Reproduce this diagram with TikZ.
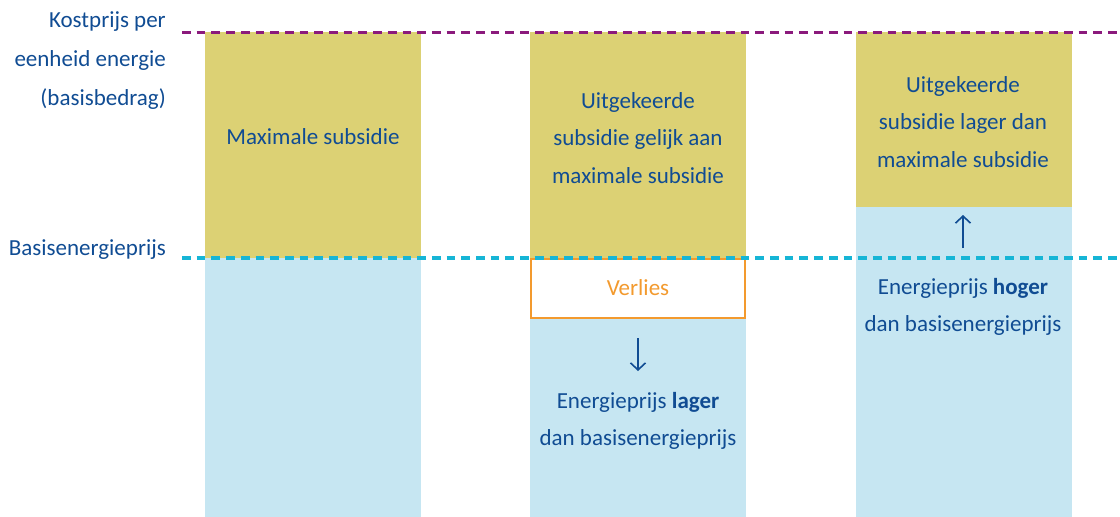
\documentclass[tikz,border=0pt]{standalone}
\usepackage{fontspec}
\setmainfont{Carlito}
\usetikzlibrary{arrows.meta}

\definecolor{donkerblauw}{HTML}{104C93}
\definecolor{geel}{HTML}{DCD174}
\definecolor{lichtblauw}{HTML}{C6E6F2}
\definecolor{cyaan}{HTML}{16B5D6}
\definecolor{paars}{HTML}{8B1A7C}
\definecolor{oranje}{HTML}{F39A2E}

\tikzset{
  tekst/.style={text=donkerblauw, align=center, font=\fontsize{23}{37.5}\selectfont, inner sep=0pt},
  labeltekst/.style={tekst, align=right, font=\fontsize{23}{39}\selectfont},
  niveaulijn/.style={line width=3.5pt, dash pattern=on 8.7pt off 6pt},
  pijl/.style={donkerblauw, line width=1.6pt, -{Straight Barb[length=7pt,width=15pt]}}
}

\begin{document}
\begin{tikzpicture}[x=1pt,y=-1pt]
\useasboundingbox (0,0) rectangle (1120,517);

            % balken
            \fill[geel] (205,32) rectangle (421,258);
            \fill[lichtblauw] (205,258) rectangle (421,517);

            \fill[geel] (530,32) rectangle (746,258);
            \fill[lichtblauw] (530,318) rectangle (746,517);
            \draw[oranje, line width=2pt, fill=white] (531,259) rectangle (745,318);

            \fill[geel] (856,32) rectangle (1072,207);
            \fill[lichtblauw] (856,207) rectangle (1072,517);

            % niveaus
            \draw[niveaulijn, paars] (182,32.5) -- (1120,32.5);
            \draw[niveaulijn, cyaan] (182,258) -- (1120,258);

            \node[labeltekst, anchor=east] (kostprijs) at (166,61) {Kostprijs per\\eenheid energie\\(basisbedrag)};
            \node[labeltekst, anchor=east] (basisprijs) at (166,250) {Basisenergieprijs};

            % teksten in de balken
            \node[tekst] (maxsub) at (313,137) {Maximale subsidie};

            \node[tekst] (gelijk) at (638,138) {Uitgekeerde\\subsidie gelijk aan\\maximale subsidie};
            \node[tekst, text=oranje] (verlies) at (638,288) {Verlies};
            \node[tekst] (lager) at (638,421) {Energieprijs \textbf{lager}\\dan basisenergieprijs};

            \node[tekst] (lagersub) at (963,122) {Uitgekeerde\\subsidie lager dan\\maximale subsidie};
            \node[tekst] (hoger) at (963,307) {Energieprijs \textbf{hoger}\\dan basisenergieprijs};

             %pijlen
             \coordinate (neer1) at (638,338);
             \coordinate (neer2) at (638,371);
             \coordinate (op1) at (963,248);
             \coordinate (op2) at (963,215);
             \draw[pijl] (neer1) -- (neer2);
             \draw[pijl] (op1) -- (op2);
\end{tikzpicture}
\end{document}
